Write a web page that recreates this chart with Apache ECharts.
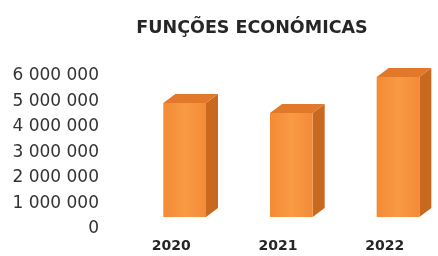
<!DOCTYPE html>
<html>
<head>
<meta charset="utf-8">
<script src="https://cdn.jsdelivr.net/npm/echarts@6/dist/echarts.min.js"></script>
<style>
  html, body { margin: 0; padding: 0; background: #fff; }
  #main { width: 438px; height: 256px; }
</style>
</head>
<body>
<div id="main"></div>
<script>
var years = ['2020', '2021', '2022'];
var valores = [4470000, 4080000, 5490000];
var yMax = 6000000;
var yStep = 1000000;

var chart = echarts.init(document.getElementById('main'));

// 3d column: front face, right side and top
function renderBar(params, api) {
  var base = api.coord([api.value(0), 0]);
  var top = api.coord([api.value(0), api.value(1)]);
  var band = api.size([1, 0])[0];
  var w = band * 0.4;
  var lift = 12;   // columns sit back from the front edge of the floor
  var dx = 12, dy = -9;
  var x0 = base[0] - 8;
  var x1 = x0 + w;
  var yb = base[1] - lift;
  var yt = top[1] - lift;
  return {
    type: 'group',
    children: [{
      type: 'polygon',
      shape: { points: [[x1, yt], [x1 + dx, yt + dy], [x1 + dx, yb + dy], [x1, yb]] },
      style: { fill: '#c8691f' }
    }, {
      type: 'polygon',
      shape: { points: [[x0, yt], [x0 + dx, yt + dy], [x1 + dx, yt + dy], [x1, yt]] },
      style: { fill: '#e2782a' }
    }, {
      type: 'rect',
      shape: { x: x0, y: yt, width: w, height: yb - yt },
      style: {
        fill: new echarts.graphic.LinearGradient(0, 0, 1, 0, [
          { offset: 0, color: '#f48a34' },
          { offset: 0.5, color: '#f99a45' },
          { offset: 1, color: '#f38b38' }
        ])
      }
    }]
  };
}

var option = {
  animation: false,
  title: {
    text: 'FUNÇÕES ECONÓMICAS',
    left: 247,
    top: 14,
    textAlign: 'center',
    textStyle: {
      fontFamily: 'DejaVu Sans',
      fontWeight: 'bold',
      fontSize: 17.5,
      color: '#262626'
    }
  },
  grid: {
    left: 118,
    right: -3,
    top: 76,
    bottom: 27
  },
  xAxis: {
    type: 'category',
    data: years,
    axisLine: { show: false },
    axisTick: { show: false },
    axisLabel: {
      margin: 10,
      fontFamily: 'DejaVu Sans',
      fontWeight: 'bold',
      fontSize: 14,
      color: '#262626'
    }
  },
  yAxis: {
    type: 'value',
    min: 0,
    max: yMax,
    interval: yStep,
    axisLine: { show: false },
    axisTick: { show: false },
    splitLine: { show: false },
    axisLabel: {
      margin: 19,
      fontFamily: 'DejaVu Sans',
      fontSize: 17,
      color: '#333',
      formatter: function (v) {
        return String(v).replace(/\B(?=(\d{3})+(?!\d))/g, ' ');
      }
    }
  },
  series: [{
    type: 'custom',
    renderItem: renderBar,
    data: valores.map(function (v, i) { return [i, v]; })
  }]
};

chart.setOption(option);
</script>
</body>
</html>
